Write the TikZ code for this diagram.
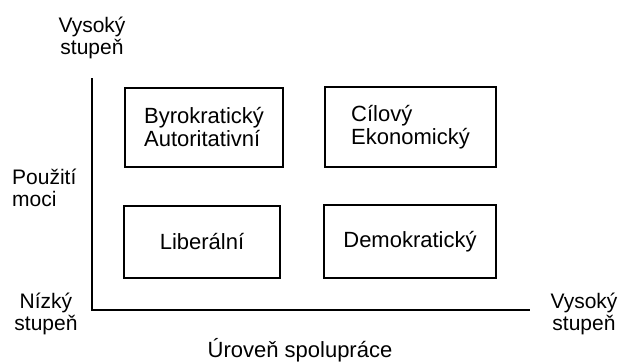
\documentclass[tikz,border=0pt]{standalone}
\usepackage{fontspec}
\setmainfont{Liberation Sans}
\tikzstyle{quadrant}=[
  draw=black,
  line width=2pt,
  align=left,
  inner sep=0pt,
  font=\fontsize{22}{23}\selectfont
]
\tikzstyle{axislabel}=[
  align=center,
  inner sep=0pt,
  font=\fontsize{21}{22}\selectfont
]

\begin{document}
\begin{tikzpicture}[x=1pt,y=-1pt]
          \useasboundingbox (0,0) rectangle (624,362);

          \def \OrigX {92}
          \def \OrigY {310}
          \def \TopY {78}
          \def \EndX {530}

          \coordinate (o) at (\OrigX, \OrigY);
          \coordinate (ytop) at (\OrigX, \TopY);
          \coordinate (xend) at (\EndX, \OrigY);
          \draw[line width=2pt] (ytop) -- (o) -- (xend);

          \foreach \n/\x/\y/\w/\h/\t in {
              byro/204/127.5/158/79/{Byrokratický\\Autoritativní},
              cil/410.5/127/171/80/{Cílový\\Ekonomický},
              lib/202/242/156/72/{Liberální},
              demo/410/241.5/172/73/{Demokratický}}{
            \node[quadrant, minimum width=\w, minimum height=\h] (\n) at (\x, \y) {\t};
          }

          \node[axislabel] (vys) at (\OrigX, 38) {Vysoký\\stupeň};
          \node[axislabel, align=left, anchor=west] (moc) at (12, 188) {Použití\\moci};
          \node[axislabel] (niz) at (46, 314) {Nízký\\stupeň};
          \node[axislabel] (vysx) at (584, 314) {Vysoký\\stupeň};
          \node[axislabel, font=\fontsize{22}{23}\selectfont] (spol) at (300, 350) {Úroveň spolupráce};
        \end{tikzpicture}
\end{document}
